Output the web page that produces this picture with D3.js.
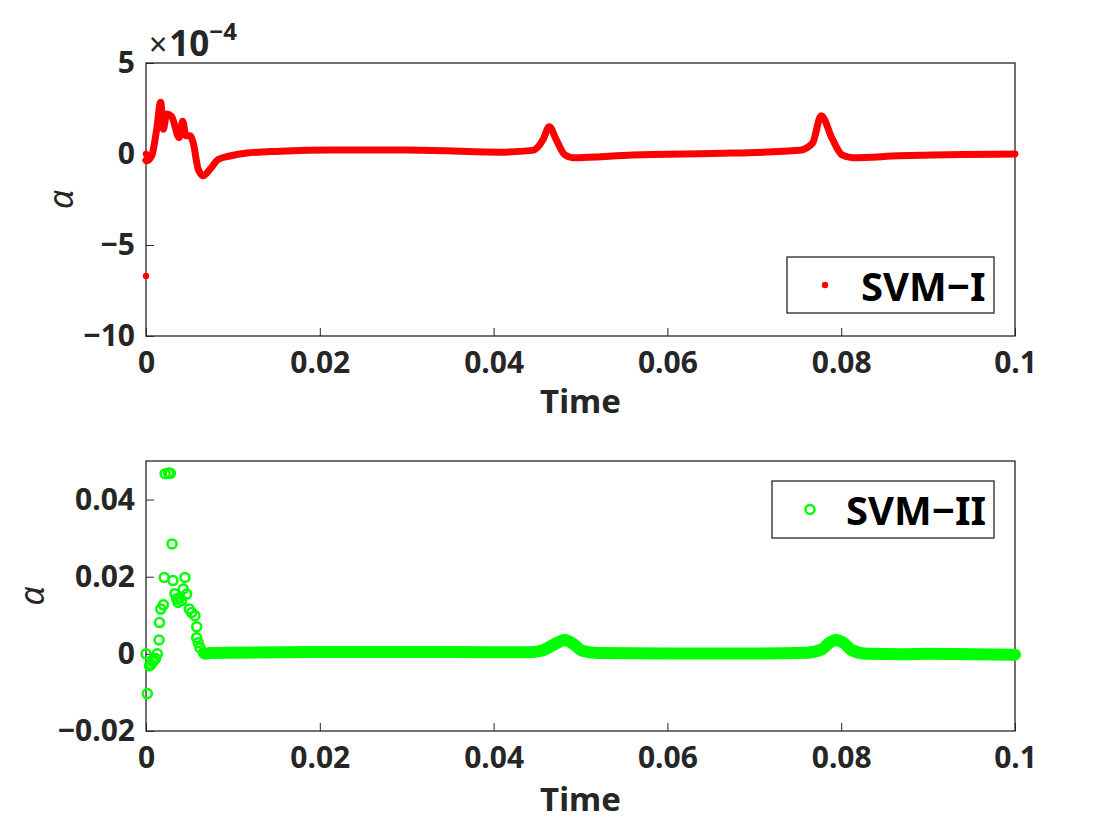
<!DOCTYPE html>
<html>
<head>
<meta charset="utf-8">
<script src="https://cdn.jsdelivr.net/npm/d3@7"></script>
<style>
  body { margin: 0; background: #fff; }
  text { font-family: "Noto Sans", sans-serif; }
</style>
</head>
<body>
<svg width="1120" height="840"></svg>
<script>
// SVM-I: time and alpha (alpha in real units, axis shows x1e-4)
const svm1Time = [0.0000, 0.00008, 0.00066, 0.00123, 0.00169, 0.00199, 0.00238, 0.00295, 0.00383, 0.00422,
  0.0046, 0.00506, 0.00544, 0.00601, 0.00659, 0.00736, 0.00831, 0.00966, 0.0116, 0.0154,
  0.0211, 0.030, 0.0407, 0.0445, 0.0457, 0.0464, 0.0472, 0.0482, 0.0491, 0.056,
  0.0675, 0.0752, 0.0767, 0.0777, 0.079, 0.0801, 0.0813, 0.0867, 0.1];
const svm1Alpha = [-0.35, -0.38, -0.1, 1.36, 2.85, 1.36, 2.2, 2.05, 0.9, 1.8,
  1.0, 1.0, 0.6, -0.84, -1.2, -0.84, -0.3, -0.11, 0.05, 0.15,
  0.22, 0.22, 0.1, 0.2, 0.8, 1.5, 0.8, -0.05, -0.2, -0.05,
  0.05, 0.2, 0.6, 2.1, 0.8, -0.05, -0.2, -0.1, 0.0].map(v => v * 1e-4);
// isolated SVM-I points at t = 0
const svm1StartAlpha = [0, -0.35e-4, -6.7e-4];

// SVM-II: early scattered samples
const svm2Time = [0.0000, 0.00015, 0.0004, 0.0006, 0.0008, 0.0009, 0.0011, 0.0013, 0.0015, 0.00155,
  0.0017, 0.0020, 0.0021, 0.0022, 0.0026, 0.0028, 0.0030, 0.0031, 0.00333, 0.00353,
  0.0037, 0.0039, 0.0041, 0.00429, 0.00448, 0.00468, 0.00498, 0.00525, 0.00563, 0.00583,
  0.00583, 0.00601, 0.0062, 0.0066];
const svm2Alpha = [0.0000, -0.0103, -0.0031, -0.0027, -0.0020, -0.0017, -0.0012, 0.0000, 0.0036, 0.0081,
  0.0116, 0.0127, 0.0198, 0.0467, 0.0469, 0.0468, 0.0285, 0.0190, 0.0156, 0.0143,
  0.0133, 0.0146, 0.0138, 0.0168, 0.0198, 0.0155, 0.0116, 0.0107, 0.0099, 0.0070,
  0.0042, 0.0029, 0.0016, 0.0003];
// SVM-II: dense samples after the transient (markers merge into a band)
const svm2BandTime = [0.0068, 0.0075, 0.010, 0.020, 0.030, 0.040, 0.044, 0.0455, 0.0470, 0.0482,
  0.0492, 0.0502, 0.052, 0.060, 0.070, 0.076, 0.0778, 0.0786, 0.0794, 0.0803,
  0.0812, 0.083, 0.087, 0.090, 0.095, 0.100];
const svm2BandAlpha = [0.0000, 0.0002, 0.0003, 0.0005, 0.0005, 0.0004, 0.0004, 0.0008, 0.0025, 0.0036,
  0.0025, 0.0008, 0.0002, 0.0001, 0.0001, 0.0003, 0.0012, 0.0028, 0.0036, 0.0028,
  0.0010, 0.0000, -0.0001, 0.0000, -0.0001, -0.0002];

const xTicks = [0, 0.02, 0.04, 0.06, 0.08, 0.1];
const y1Ticks = [5e-4, 0, -5e-4, -10e-4];
const y2Ticks = [0.04, 0.02, 0, -0.02];

const svg = d3.select("svg");
const ink = "#262626";
const L = 146, R = 1015;

const x = d3.scaleLinear().domain([0, 0.1]).range([L, R]);
const y1 = d3.scaleLinear().domain([-10e-4, 5e-4]).range([336, 63]);
const y2 = d3.scaleLinear().domain([-0.02, 0.05]).range([731, 461]);

const fmtX = d => d === 0 ? "0" : d3.format("~g")(d);
const minus = s => s.replace("-", "\u2212");

function axes(y, yTicks, yFmt, xLabelY, ylabX) {
  const [top, bottom] = [y.range()[1], y.range()[0]];
  const g = svg.append("g");
  g.append("rect").attr("x", L).attr("y", top).attr("width", R - L).attr("height", bottom - top)
    .attr("fill", "none").attr("stroke", ink).attr("stroke-width", 1.3);

  // bottom axis, ticks pointing in
  const xa = g.append("g").attr("transform", `translate(0,${bottom})`)
    .call(d3.axisBottom(x).tickValues(xTicks).tickSize(-8).tickPadding(8).tickFormat(fmtX));
  const ya = g.append("g").attr("transform", `translate(${L},0)`)
    .call(d3.axisLeft(y).tickValues(yTicks).tickSize(-8).tickPadding(11).tickFormat(d => minus(yFmt(d))));
  [xa, ya].forEach(a => {
    a.select(".domain").remove();
    a.selectAll("line").attr("stroke", ink);
    a.selectAll("text").attr("fill", ink).attr("font-size", 30).attr("font-weight", "bold");
  });
  xa.selectAll("text").attr("dy", "0.95em");

  g.append("text").attr("x", (L + R) / 2).attr("y", xLabelY).attr("text-anchor", "middle")
    .attr("font-size", 33).attr("font-weight", "bold").attr("fill", ink).text("Time");
  g.append("text").attr("transform", `translate(${ylabX},${(top + bottom) / 2}) rotate(-90)`)
    .attr("text-anchor", "middle").attr("dominant-baseline", "central")
    .attr("font-family", "DejaVu Serif").attr("font-style", "italic")
    .attr("font-size", 34).attr("fill", ink).text("\u03b1");
}

axes(y1, y1Ticks, d => d3.format("~g")(Math.round(d / 1e-4)), 413, 60);
axes(y2, y2Ticks, d => d === 0 ? "0" : d3.format(".2f")(d), 811, 31);

// x10^-4 multiplier
const mult = svg.append("text").attr("x", 149).attr("y", 56).attr("fill", ink);
mult.append("tspan").attr("font-size", 32).text("\u00d7");
mult.append("tspan").attr("font-size", 35).attr("font-weight", "bold").attr("dx", 2).text("10");
mult.append("tspan").attr("font-size", 24).attr("font-weight", "bold").attr("dy", -16).text("\u22124");

// SVM-I line
const clip1 = svg.append("clipPath").attr("id", "c1");
clip1.append("rect").attr("x", L - 6).attr("y", 63).attr("width", R - L + 12).attr("height", 273);
const red = "#ff0000";
svg.append("path")
  .datum(svm1Time.map((t, i) => [t, svm1Alpha[i]]))
  .attr("clip-path", "url(#c1)")
  .attr("fill", "none").attr("stroke", red).attr("stroke-width", 7)
  .attr("stroke-linejoin", "round").attr("stroke-linecap", "round")
  .attr("d", d3.line().x(d => x(d[0])).y(d => y1(d[1])).curve(d3.curveMonotoneX));
svg.selectAll(".s1dot").data(svm1StartAlpha).join("circle")
  .attr("cx", x(0)).attr("cy", d => y1(d)).attr("r", 3.2).attr("fill", red);

// SVM-II band and scattered markers
const green = "#00ff00";
svg.append("path")
  .datum(svm2BandTime.map((t, i) => [t, svm2BandAlpha[i]]))
  .attr("fill", "none").attr("stroke", green).attr("stroke-width", 12)
  .attr("stroke-linejoin", "round").attr("stroke-linecap", "round")
  .attr("d", d3.line().x(d => x(d[0])).y(d => y2(d[1])).curve(d3.curveMonotoneX));
svg.selectAll(".s2dot").data(svm2Time.map((t, i) => [t, svm2Alpha[i]])).join("circle")
  .attr("cx", d => x(d[0])).attr("cy", d => y2(d[1])).attr("r", 4.5)
  .attr("fill", "none").attr("stroke", green).attr("stroke-width", 2.5);

// legends
function legend(x0, y0, w, h, label, marker) {
  const g = svg.append("g");
  g.append("rect").attr("x", x0).attr("y", y0).attr("width", w).attr("height", h)
    .attr("fill", "#fff").attr("stroke", ink).attr("stroke-width", 1.3);
  marker(g, x0 + 38, y0 + h / 2);
  g.append("text").attr("x", x0 + 74).attr("y", y0 + h / 2).attr("dominant-baseline", "central")
    .attr("font-size", 40).attr("font-weight", "bold").attr("fill", "#000").text(label);
}
legend(787, 257, 207, 56, "SVM\u2212I", (g, cx, cy) =>
  g.append("circle").attr("cx", cx).attr("cy", cy).attr("r", 3.2).attr("fill", red));
legend(772, 481, 222, 57, "SVM\u2212II", (g, cx, cy) =>
  g.append("circle").attr("cx", cx).attr("cy", cy).attr("r", 4.5)
    .attr("fill", "none").attr("stroke", green).attr("stroke-width", 2.5));
</script>
</body>
</html>
